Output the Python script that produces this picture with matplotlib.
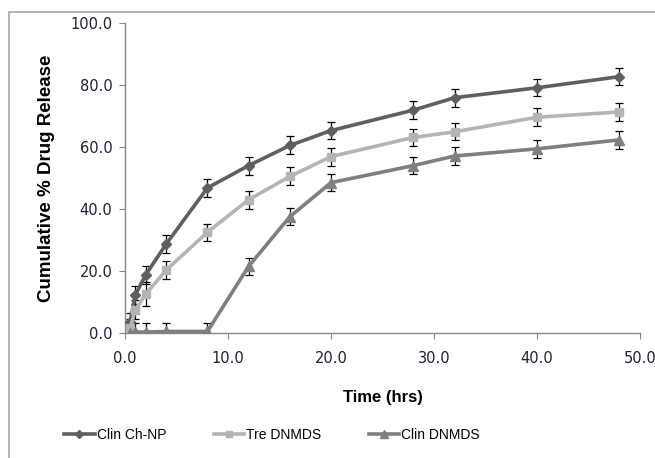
import numpy as np
import matplotlib
matplotlib.use("Agg")
import matplotlib.pyplot as plt
from matplotlib.patches import Rectangle

# release data
time_hrs = [0.5, 1, 2, 4, 8, 12, 16, 20, 28, 32, 40, 48]
clin_chnp = [3.6, 12.3, 18.7, 28.7, 46.8, 54.0, 60.5, 65.3, 71.9, 75.9, 79.1, 82.7]
tre_dnmds = [1.5, 7.5, 12.5, 20.3, 32.5, 43.0, 50.5, 56.9, 63.1, 64.9, 69.6, 71.3]
clin_dnmds = [0.0, 0.3, 0.3, 0.5, 0.5, 21.5, 37.5, 48.5, 54.0, 57.1, 59.4, 62.3]
err_chnp = [3.0, 2.8, 2.8, 2.8, 2.8, 2.9, 2.9, 2.8, 2.9, 2.9, 2.8, 2.8]
err_tre = [3.0, 3.0, 3.8, 2.8, 2.8, 2.9, 2.9, 2.9, 2.8, 2.8, 2.9, 2.9]
err_dn = [2.5, 2.8, 2.8, 2.8, 2.8, 2.8, 2.8, 2.8, 2.8, 2.8, 2.8, 2.8]

series_names = ["Clin Ch-NP", "Tre DNMDS", "Clin DNMDS"]
xticks = [0, 10, 20, 30, 40, 50]
yticks = [0, 20, 40, 60, 80, 100]

fig = plt.figure(figsize=(6.55, 4.58), dpi=100)
# chart area border (cut off at right/bottom like the screenshot)
fig.patches.append(Rectangle((9/655, -0.1), 1.2, 1 - 12/458 + 0.1,
                             transform=fig.transFigure, fill=False,
                             edgecolor="#a6a6a6", linewidth=1.2))

ax = fig.add_axes([125/655, 1 - 333/458, 515/655, 310/458])

styles = [
    (clin_chnp, err_chnp, "#5f5f5f", "D", 5.5),
    (tre_dnmds, err_tre, "#b4b4b4", "s", 5.5),
    (clin_dnmds, err_dn, "#7f7f7f", "^", 6.5),
]
handles = []
for (vals, err, col, mk, ms), name in zip(styles, series_names):
    ax.errorbar(time_hrs, vals, yerr=err, fmt="none", ecolor="black",
                elinewidth=0.9, capsize=3, capthick=0.9, zorder=2)
    h, = ax.plot(time_hrs, vals, color=col, marker=mk, markersize=ms,
                 linewidth=2.6, label=name, zorder=3)
    handles.append(h)

ax.set_xlim(0, 50)
ax.set_ylim(0, 100)
ax.set_xticks(xticks)
ax.set_yticks(yticks)
ax.set_xticklabels(["%.1f" % v for v in xticks])
ax.set_yticklabels(["%.1f" % v for v in yticks])
for s in ["top", "right"]:
    ax.spines[s].set_visible(False)
for s in ["left", "bottom"]:
    ax.spines[s].set_color("#868686")
    ax.spines[s].set_linewidth(1.0)
ax.tick_params(axis="both", colors="#868686", labelcolor="#1f1f3a",
               labelsize=10.5, length=4, direction="out")
ax.tick_params(axis="x", pad=9)
ax.tick_params(axis="y", pad=5)

ax.set_xlabel("Time (hrs)", fontfamily="Liberation Sans", fontweight="bold",
              fontsize=12, labelpad=17)
ax.set_ylabel("Cumulative % Drug Release", fontfamily="Liberation Sans",
              fontweight="bold", fontsize=13.5, labelpad=11)

fig.legend(handles=handles, loc="center", bbox_to_anchor=(272/655, 1 - 435/458),
           ncol=3, frameon=False, prop={"family": "Liberation Sans", "size": 10},
           handlelength=2.2, handletextpad=0.15, columnspacing=3.4,
           markerscale=0.8)

fig.savefig("out.png", dpi=100)
